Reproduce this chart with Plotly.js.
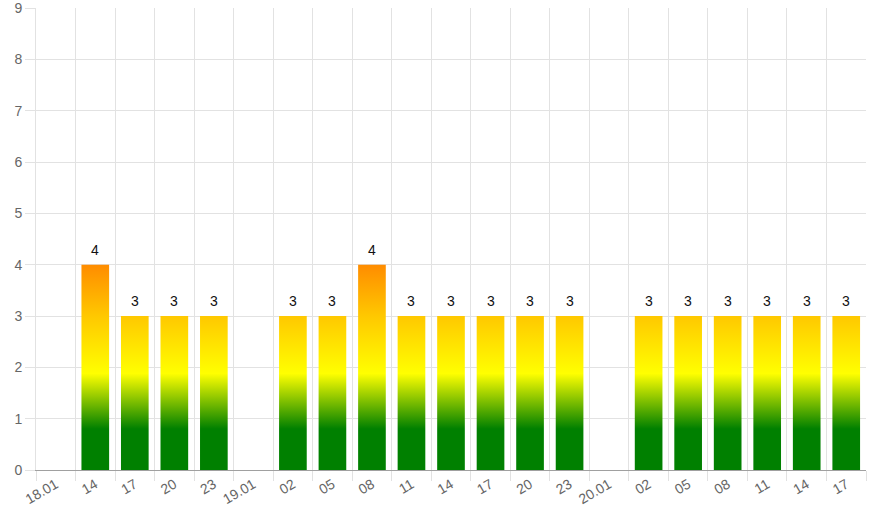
<!DOCTYPE html>
<html>
<head>
<meta charset="utf-8">
<script src="https://cdn.plot.ly/plotly-3.0.1.min.js"></script>
<style>
html,body{margin:0;padding:0;background:#fff;}
#chart{width:875px;height:525px;}
</style>
</head>
<body>
<div id="chart"></div>
<script>
// Data
const tickLabels = ["18.01","14","17","20","23","19.01","02","05","08","11","14","17","20","23","20.01","02","05","08","11","14","17"];
const values = [null,4,3,3,3,null,3,3,4,3,3,3,3,3,null,3,3,3,3,3,3];
const yTicks = [0,1,2,3,4,5,6,7,8,9];

const xIdx = tickLabels.map((_, i) => i);
const boundaries = tickLabels.map((_, i) => i - 0.5).concat([tickLabels.length - 0.5]);

const trace = {
  type: 'bar',
  x: xIdx,
  y: values,
  width: 0.7,
  marker: {color: '#008000', line: {width: 0}},
  hoverinfo: 'none'
};

const valueLabels = [];
values.forEach((v, i) => {
  if (v == null) return;
  valueLabels.push({
    x: xIdx[i], y: v, xref: 'x', yref: 'y',
    text: String(v), showarrow: false,
    yanchor: 'bottom', yshift: 5,
    font: {family: 'Liberation Sans, Arial, sans-serif', size: 14, color: '#111'}
  });
});

const gridColor = '#e2e2e2';
const layout = {
  width: 875, height: 525,
  margin: {l: 36, r: 9, t: 8, b: 55},
  paper_bgcolor: '#fff', plot_bgcolor: '#fff',
  showlegend: false,
  font: {family: 'Liberation Sans, Arial, sans-serif', size: 14, color: '#666'},
  annotations: valueLabels,
  xaxis: {
    range: [-0.5, tickLabels.length - 0.5],
    tickmode: 'array', tickvals: xIdx, ticktext: tickLabels,
    tickangle: -30, ticks: '', showgrid: false, zeroline: false,
    showline: true, linecolor: '#a0a0a0', linewidth: 1,
    tickfont: {size: 14, color: '#666'},
    minor: {tickmode: 'array', tickvals: boundaries, ticks: 'outside', ticklen: 10, tickcolor: gridColor, showgrid: true, gridcolor: gridColor, gridwidth: 1}
  },
  yaxis: {
    range: [0, 9], tickmode: 'array', tickvals: yTicks,
    ticks: 'outside', ticklen: 10, tickcolor: gridColor,
    showgrid: true, gridcolor: gridColor, zeroline: false,
    showline: true, linecolor: gridColor,
    ticklabeloverflow: 'allow',
    tickfont: {size: 14, color: '#666'}
  }
};

function applyGradient(gd) {
  const ya = gd._fullLayout.yaxis;
  const svg = gd.querySelector('svg.main-svg');
  const ns = 'http://www.w3.org/2000/svg';
  let defs = svg.querySelector('defs');
  if (!defs) { defs = document.createElementNS(ns, 'defs'); svg.insertBefore(defs, svg.firstChild); }
  let g = defs.querySelector('#barGrad');
  if (g) g.remove();
  g = document.createElementNS(ns, 'linearGradient');
  g.setAttribute('id', 'barGrad');
  g.setAttribute('gradientUnits', 'userSpaceOnUse');
  g.setAttribute('x1', 0); g.setAttribute('x2', 0);
  g.setAttribute('y1', ya.l2p(0)); g.setAttribute('y2', ya.l2p(4));
  const stops = [[0,'#008000'],[0.2,'#008000'],[0.47,'#ffff00'],[0.75,'#ffc800'],[1,'#ff8c00']];
  stops.forEach(([o, c]) => {
    const s = document.createElementNS(ns, 'stop');
    s.setAttribute('offset', o); s.setAttribute('stop-color', c);
    g.appendChild(s);
  });
  defs.appendChild(g);
  gd.querySelectorAll('.barlayer .point path').forEach(p => {
    p.style.fill = 'url(#barGrad)';
  });
}

const gd = document.getElementById('chart');
Plotly.newPlot(gd, [trace], layout, {displayModeBar: false, staticPlot: true}).then(() => {
  applyGradient(gd);
  gd.on && gd.on('plotly_afterplot', () => applyGradient(gd));
});
</script>
</body>
</html>
